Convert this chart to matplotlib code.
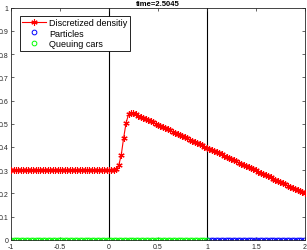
import matplotlib
matplotlib.use('Agg')
import matplotlib.pyplot as plt
import numpy as np

# discretized density on the grid x = -1 : 0.025 : 2
density = [0.300] * 42 + [
    0.301, 0.306, 0.322, 0.365, 0.440, 0.505, 0.540, 0.548,
    0.545, 0.540, 0.535, 0.530, 0.525, 0.520, 0.516, 0.511, 0.506, 0.501,
    0.496, 0.491, 0.486, 0.481, 0.476, 0.471, 0.466, 0.461, 0.456, 0.451,
    0.446, 0.442, 0.437, 0.432, 0.427, 0.422, 0.417, 0.412, 0.407, 0.402,
    0.397, 0.392, 0.387, 0.382, 0.377, 0.373, 0.368, 0.363, 0.358, 0.353,
    0.348, 0.343, 0.338, 0.333, 0.328, 0.323, 0.318, 0.313, 0.308, 0.304,
    0.299, 0.294, 0.289, 0.284, 0.279, 0.274, 0.269, 0.264, 0.259, 0.254,
    0.249, 0.244, 0.239, 0.234, 0.230, 0.225, 0.220, 0.215, 0.210, 0.205,
    0.200]
x_grid = np.linspace(-1, 2, len(density))

# car positions (all on the road, y = 0)
queue_x = [
    -1.000, -0.975, -0.950, -0.925, -0.900, -0.875, -0.850, -0.825, -0.800, -0.775,
    -0.750, -0.725, -0.700, -0.675, -0.650, -0.625, -0.600, -0.575, -0.550, -0.525,
    -0.500, -0.475, -0.450, -0.425, -0.400, -0.375, -0.350, -0.325, -0.300, -0.275,
    -0.250, -0.225, -0.200, -0.175, -0.150, -0.125, -0.100, -0.075, -0.050, -0.025,
    0.000, 0.025, 0.050, 0.075, 0.100, 0.125, 0.150, 0.175, 0.200, 0.225,
    0.250, 0.275, 0.300, 0.325, 0.350, 0.375, 0.400, 0.425, 0.450, 0.475,
    0.500, 0.525, 0.550, 0.575, 0.600, 0.625, 0.650, 0.675, 0.700, 0.725,
    0.750, 0.775, 0.800, 0.825, 0.850, 0.875, 0.900, 0.925, 0.950, 0.975, 1.000]
particle_x = [
    1.015, 1.040, 1.065, 1.090, 1.115, 1.140, 1.165, 1.190, 1.215, 1.240,
    1.265, 1.290, 1.315, 1.340, 1.365, 1.390, 1.415, 1.440, 1.465, 1.490,
    1.515, 1.540, 1.565, 1.590, 1.615, 1.640, 1.665, 1.690, 1.715, 1.740,
    1.765, 1.790, 1.815, 1.840, 1.865, 1.890, 1.915, 1.940, 1.965, 1.990]

x_ticks = [-1, -0.5, 0, 0.5, 1, 1.5, 2]
x_labels = ['-1', '-0.5', '0', '0.5', '1', '1.5', '2']
y_ticks = [0, 0.1, 0.2, 0.3, 0.4, 0.5, 0.6, 0.7, 0.8, 0.9, 1]
y_labels = ['0', '0.1', '0.2', '0.3', '0.4', '0.5', '0.6', '0.7', '0.8', '0.9', '1']

plt.rcParams['font.family'] = ['Liberation Sans', 'DejaVu Sans']

fig = plt.figure(figsize=(3.07, 2.51), dpi=100)
ax = fig.add_axes([0.036, 0.040, 0.957, 0.926])

# matlab-like asterisk marker
ast = (6, 2, 0)
ax.plot(x_grid, density, color='red', marker=ast, markersize=4.5,
        markeredgewidth=0.8, linewidth=0.8, label='Discretized densitiy',
        zorder=3)
ax.plot(particle_x, np.zeros(len(particle_x)), linestyle='none', marker='o',
        markersize=3.4, markerfacecolor='none', markeredgecolor='blue',
        markeredgewidth=0.7, label='Particles', zorder=2)
ax.plot(queue_x, np.zeros(len(queue_x)), linestyle='none', marker='o',
        markersize=3.4, markerfacecolor='none', markeredgecolor=(0, 1, 0),
        markeredgewidth=0.7, label='Queuing cars', zorder=2)

ax.axvline(0, color='black', linewidth=0.8, zorder=1)
ax.axvline(1, color='black', linewidth=0.8, zorder=1)

ax.set_xlim(-1, 2)
ax.set_ylim(0, 1)
ax.set_xticks(x_ticks)
ax.set_xticklabels(x_labels)
ax.set_yticks(y_ticks)
ax.set_yticklabels(y_labels)
ax.tick_params(direction='in', length=2.5, width=0.5, labelsize=5,
               top=True, right=True, colors='#262626', pad=2)
for s in ax.spines.values():
    s.set_linewidth(0.6)
    s.set_color('#262626')

ax.set_title('time=2.5045', fontsize=5.5, fontweight='bold', pad=2)

leg = ax.legend(loc='upper left', fontsize=6.5, fancybox=False,
                edgecolor='black', framealpha=1, handlelength=2.6,
                borderpad=0.25, labelspacing=0.2, handletextpad=0.4,
                bbox_to_anchor=(0.015, 0.985))
leg.get_frame().set_linewidth(0.6)

fig.savefig('out.png', dpi=100)
